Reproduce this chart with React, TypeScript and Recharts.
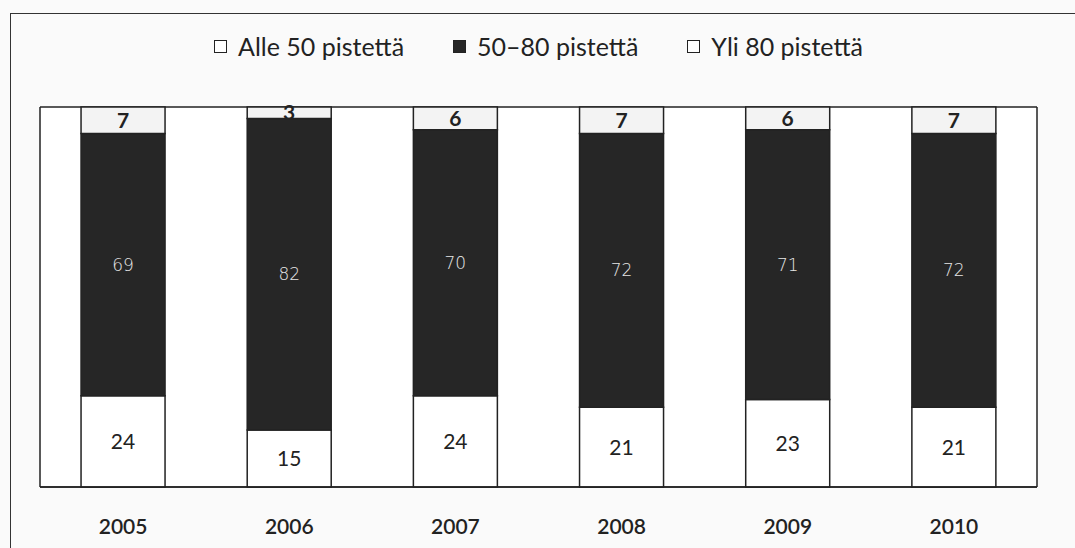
import { BarChart, Bar, XAxis, YAxis, Legend, LabelList, CartesianGrid } from "recharts";

const years = ["2005", "2006", "2007", "2008", "2009", "2010"];
const alle50 = [24, 15, 24, 21, 23, 21];
const mid5080 = [69, 82, 70, 72, 71, 72];
const yli80 = [7, 3, 6, 7, 6, 7];

const seriesNames = ["Alle 50 pistettä", "50–80 pistettä", "Yli 80 pistettä"];
const seriesFills = ["#ffffff", "#262626", "#ffffff"];

const data = years.map((year, i) => ({
  year,
  alle50: alle50[i],
  mid: mid5080[i],
  yli80: yli80[i],
}));

const font = "Lato, 'Open Sans', sans-serif";
const ink = "#222";

function LegendContent() {
  return (
    <div
      style={{
        height: 94,
        boxSizing: "border-box",
        position: "relative",
        top: -14,
        display: "flex",
        justifyContent: "center",
        gap: 49,
        fontFamily: font,
        fontSize: 25,
        lineHeight: "28px",
        color: ink,
      }}
    >
      {seriesNames.map((name, i) => (
        <div key={name} style={{ display: "flex", alignItems: "center" }}>
          <span
            style={{
              display: "inline-block",
              width: 11,
              height: 11,
              background: seriesFills[i],
              border: `1.5px solid ${ink}`,
              marginRight: 11,
            }}
          />
          {name}
        </div>
      ))}
    </div>
  );
}

function YearTick(props: any) {
  const { x, y, payload } = props;
  return (
    <text
      x={x}
      y={y + 30}
      textAnchor="middle"
      dominantBaseline="central"
      fontFamily={font}
      fontSize={21}
      fontWeight={600}
      fill={ink}
    >
      {payload.value}
    </text>
  );
}

export default function App() {
  return (
    <div style={{ position: "absolute", left: 0, top: 0, width: 1075, height: 548, overflow: "hidden", background: "#fafafa" }}>
      <div
        style={{
          position: "absolute",
          left: 10,
          top: 13,
          width: 1100,
          height: 600,
          borderLeft: "1.5px solid #333",
          borderTop: "1.5px solid #333",
        }}
      />
      <div style={{ position: "absolute", left: 0, top: 0 }}>
        <BarChart
          width={1075}
          height={548}
          data={data}
          margin={{ top: 13, right: 38, bottom: 0, left: 40 }}
          barCategoryGap="24.7%"
        >
          <CartesianGrid
            fill="#ffffff"
            stroke={ink}
            strokeWidth={1.5}
            horizontalCoordinatesGenerator={({ offset }: any) => [offset.top, offset.top + offset.height]}
            verticalCoordinatesGenerator={({ offset }: any) => [offset.left, offset.left + offset.width]}
          />
          <Legend verticalAlign="top" content={<LegendContent />} />
          <XAxis
            dataKey="year"
            height={61}
            axisLine={{ stroke: ink, strokeWidth: 1.5 }}
            tickLine={false}
            tick={<YearTick />}
          />
          <YAxis domain={[0, 100]} width={0} hide />
          <Bar dataKey="alle50" stackId="a" fill={seriesFills[0]} stroke={ink} strokeWidth={1.5} isAnimationActive={false}>
            <LabelList dataKey="alle50" position="center" fill={ink} fontFamily={font} fontSize={21} />
          </Bar>
          <Bar dataKey="mid" stackId="a" fill={seriesFills[1]} stroke={ink} strokeWidth={1.5} isAnimationActive={false}>
            <LabelList dataKey="mid" position="center" fill="#e6e6e6" fontFamily="'DejaVu Sans', sans-serif" fontWeight={300} fontSize={17} />
          </Bar>
          <Bar dataKey="yli80" stackId="a" fill="#f3f3f3" stroke={ink} strokeWidth={1.5} isAnimationActive={false}>
            <LabelList dataKey="yli80" position="center" fill={ink} fontFamily={font} fontWeight={700} fontSize={21} />
          </Bar>
        </BarChart>
      </div>
    </div>
  );
}
